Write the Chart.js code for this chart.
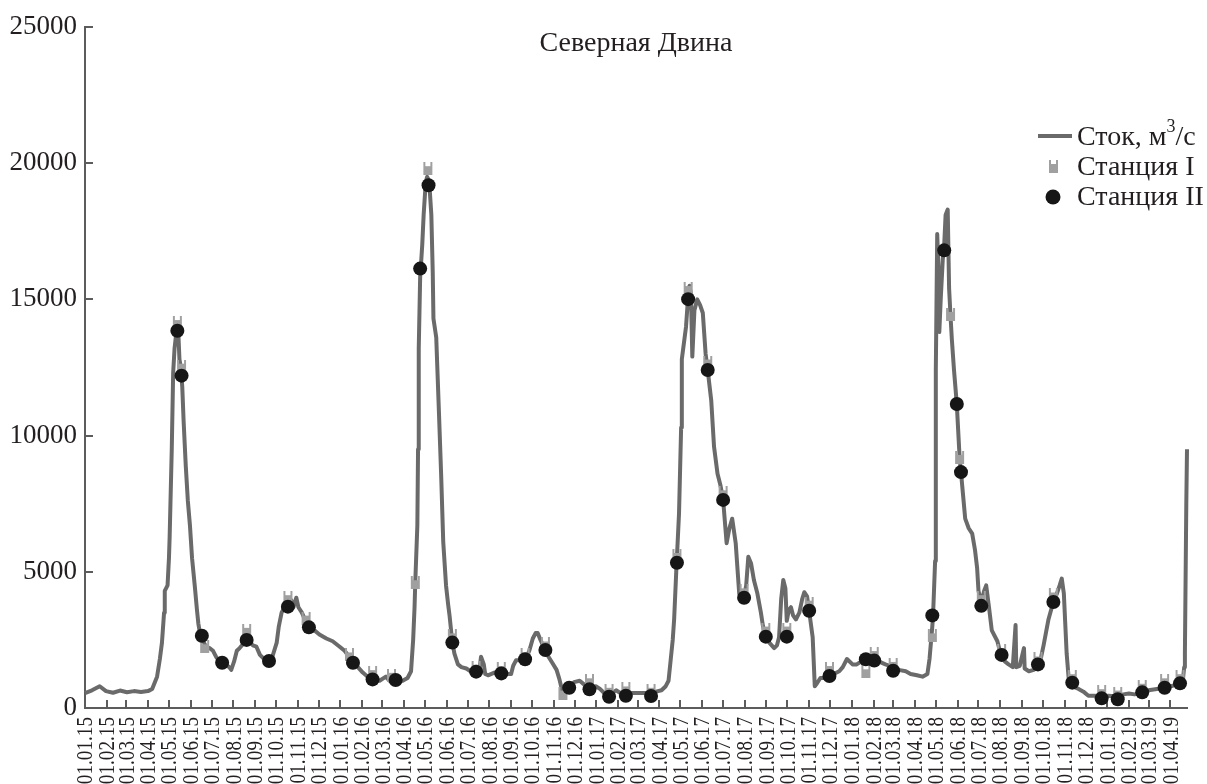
<!DOCTYPE html>
<html>
<head>
<meta charset="utf-8">
<script src="https://cdn.jsdelivr.net/npm/chart.js@4"></script>
<style>
  html, body { margin: 0; padding: 0; background: #fff; }
  #wrap { width: 1207px; height: 784px; }
</style>
</head>
<body>
<div id="wrap"><canvas id="chart" width="1207" height="784"></canvas></div>
<script>
// daily discharge, day number counted from 01.01.2015
const flowDay = [
  0, 10, 21, 30, 40, 50, 60, 70, 80, 90, 96, 103, 107, 110, 113, 114, 118, 120, 121, 124,
  126, 128, 131, 133, 135, 137, 139, 141, 144, 147, 150, 153, 157, 160, 162, 164, 168, 173, 178, 183,
  188, 196, 201, 206, 209, 213, 217, 221, 226, 231, 236, 240, 245, 250, 256, 263, 268, 274, 277, 281,
  285, 290, 295, 298, 302, 305, 310, 315, 321, 328, 335, 345, 354, 364, 371, 377, 383, 390, 397, 404,
  411, 421, 430, 435, 444, 454, 461, 466, 469, 471, 472, 475, 476, 477, 479, 482, 484, 487, 489, 491,
  493, 495, 497, 498, 502, 506, 509, 512, 516, 519, 521, 525, 528, 533, 538, 545, 551, 559, 564, 566,
  570, 572, 576, 585, 595, 602, 609, 612, 616, 622, 629, 635, 640, 644, 647, 651, 658, 662, 668, 674,
  678, 683, 687, 692, 699, 707, 714, 721, 730, 736, 742, 749, 759, 765, 773, 782, 792, 801, 809, 816,
  824, 830, 834, 837, 840, 842, 845, 849, 852, 853, 859, 862, 864, 866, 868, 871, 875, 879, 883, 887,
  890, 895, 899, 904, 908, 912, 917, 921, 925, 930, 935, 939, 942, 945, 948, 952, 956, 961, 966, 969,
  973, 978, 985, 989, 992, 995, 998, 1001, 1003, 1006, 1009, 1012, 1016, 1021, 1025, 1028, 1032, 1035, 1040, 1043,
  1046, 1051, 1058, 1064, 1070, 1078, 1083, 1089, 1097, 1103, 1109, 1116, 1122, 1128, 1135, 1144, 1155, 1163, 1173, 1180,
  1189, 1197, 1204, 1207, 1211, 1212, 1215, 1216, 1218, 1220, 1221, 1223, 1226, 1228, 1230, 1233, 1235, 1237, 1239, 1242,
  1246, 1250, 1252, 1255, 1258, 1263, 1268, 1272, 1275, 1277, 1281, 1285, 1288, 1292, 1296, 1304, 1310, 1315, 1320, 1326,
  1330, 1331, 1336, 1342, 1343, 1349, 1356, 1362, 1366, 1370, 1377, 1384, 1389, 1393, 1396, 1399, 1401, 1403, 1406, 1411,
  1420, 1427, 1434, 1443, 1453, 1463, 1476, 1484, 1492, 1500, 1511, 1520, 1532, 1543, 1552, 1559, 1565, 1569, 1571, 1572,
  1574, 1575
];
const flowValue = [
  550, 650, 800, 620, 560, 640, 580, 620, 590, 620, 700, 1150, 1800, 2400, 3500, 4300, 4500, 5500, 6300, 9500,
  12300, 13200, 13900, 14000, 12800, 12500, 11800, 10500, 8900, 7600, 6700, 5500, 4450, 3600, 3100, 2800, 2500, 2250, 2200, 2100,
  1850, 1650, 1600, 1500, 1400, 1700, 2100, 2200, 2350, 2500, 2400, 2300, 2250, 1950, 1800, 1750, 1900, 2400, 3000, 3500,
  3700, 3900, 3950, 3700, 4050, 3700, 3500, 3200, 2950, 2850, 2700, 2550, 2450, 2250, 2100, 1900, 1750, 1500, 1300, 1150,
  1050, 1000, 1150, 1000, 1000, 1000, 1100, 1350, 2500, 3700, 4600, 6700, 9500, 13200, 15800, 17000, 18100, 19300, 19500, 19400,
  18900, 18100, 16000, 14300, 13600, 10750, 8570, 6100, 4500, 3800, 3400, 2400, 2000, 1600, 1500, 1450, 1350, 1200, 1450, 1880,
  1600, 1250, 1200, 1300, 1200, 1250, 1250, 1550, 1750, 1750, 1750, 2100, 2550, 2750, 2750, 2500, 2100, 1900, 1650, 1400,
  1060, 520, 600, 700, 950, 1000, 850, 650, 800, 700, 550, 480, 650, 550, 500, 550, 550, 550, 500, 600,
  650, 800, 1000, 1750, 2500, 3250, 5000, 7150, 10300, 12800, 14000, 15100, 15500, 15200, 12900, 14600, 15000, 14800, 14500, 13000,
  12400, 11300, 9600, 8600, 8200, 7650, 6050, 6600, 6950, 6050, 4200, 4000, 4100, 4500, 5550, 5300, 4700, 4200, 3500, 3000,
  2600, 2400, 2200, 2300, 2600, 4000, 4700, 4400, 3200, 3600, 3700, 3400, 3250, 3500, 4000, 4250, 4100, 3550, 2600, 800,
  900, 1100, 1100, 1200, 1250, 1350, 1500, 1800, 1600, 1600, 1700, 1850, 1800, 1750, 1700, 1600, 1500, 1400, 1350, 1250,
  1200, 1150, 1250, 1800, 3000, 3350, 5400, 12400, 17400, 16000, 13800, 15000, 16500, 17000, 18100, 18300, 15400, 14400, 13500, 12400,
  11150, 9200, 8650, 7800, 6950, 6600, 6400, 5800, 5150, 4300, 3850, 4300, 4500, 3700, 2850, 2450, 1850, 1700, 1600, 1500,
  3050, 1500, 1550, 2200, 1450, 1350, 1400, 1500, 1800, 2300, 3250, 3900, 4200, 4500, 4750, 4200, 3100, 2000, 1050, 800,
  700, 600, 450, 450, 420, 450, 420, 500, 530, 500, 550, 650, 700, 750, 800, 850, 900, 1000, 1500, 2000,
  7500, 9500
];

// Станция I
const st1Day = [132, 138, 171, 231, 290, 316, 378, 411, 438, 472, 490, 525, 559, 595, 629, 658, 683, 721, 749, 773,
  809, 846, 862, 890, 912, 942, 973, 1003, 1035, 1064, 1116, 1128, 1155, 1211, 1237, 1250, 1281, 1310, 1362, 1384,
  1411, 1453, 1476, 1511, 1543, 1565];
const st1Value = [14150, 12550, 2250, 2850, 4050, 3300, 1950, 1300, 1200, 4600, 19800, 2650, 1500, 1450, 1950, 2350, 550, 1000, 650, 700,
  650, 5600, 15400, 12700, 7900, 4300, 2900, 2900, 3850, 1450, 1330, 2000, 1600, 2650, 14450, 9200, 4050, 2100, 1800, 4150,
  1150, 600, 550, 800, 1000, 1150];

// Станция II
const st2Day = [132, 138, 167, 196, 231, 263, 290, 320, 383, 411, 444, 479, 491, 525, 559, 595, 629, 658, 692, 721,
  749, 773, 809, 846, 862, 890, 912, 942, 973, 1003, 1035, 1064, 1116, 1128, 1155, 1211, 1228, 1246, 1252, 1281,
  1310, 1362, 1384, 1411, 1453, 1476, 1511, 1543, 1565];
const st2Value = [13850, 12200, 2650, 1660, 2500, 1725, 3720, 2960, 1660, 1050, 1030, 16130, 19190, 2400, 1335, 1270, 1790, 2130, 745, 685,
  415, 450, 440, 5330, 15010, 12410, 7640, 4050, 2620, 2620, 3570, 1175, 1790, 1740, 1370, 3400, 16800, 11160, 8660, 3750,
  1950, 1600, 3890, 930, 355, 320, 575, 745, 905];

const monthLabels = [
  '01.01.15', '01.02.15', '01.03.15', '01.04.15', '01.05.15', '01.06.15', '01.07.15', '01.08.15', '01.09.15', '01.10.15', '01.11.15', '01.12.15',
  '01.01.16', '01.02.16', '01.03.16', '01.04.16', '01.05.16', '01.06.16', '01.07.16', '01.08.16', '01.09.16', '01.10.16', '01.11.16', '01.12.16',
  '01.01.17', '01.02.17', '01.03.17', '01.04.17', '01.05.17', '01.06.17', '01.07.17', '01.08.17', '01.09.17', '01.10.17', '01.11.17', '01.12.17',
  '01.01.18', '01.02.18', '01.03.18', '01.04.18', '01.05.18', '01.06.18', '01.07.18', '01.08.18', '01.09.18', '01.10.18', '01.11.18', '01.12.18',
  '01.01.19', '01.02.19', '01.03.19', '01.04.19'
];
const yTicks = [0, 5000, 10000, 15000, 20000, 25000];

const FONT = '"Liberation Serif", "Times New Roman", serif';
const TEXT = '#231f20';
const AXIS = '#5c5c5c';
const LINE = '#6a6a6a';
const MARK1 = '#a0a0a0';
const MARK2 = '#161616';

const DAY0 = Date.UTC(2015, 0, 1);
function labelToDay(s) {
  const p = s.split('.').map(Number);
  return Math.round((Date.UTC(2000 + p[2], p[1] - 1, p[0]) - DAY0) / 86400000);
}
const monthDays = monthLabels.map(labelToDay);

function cupMarker() {
  const c = document.createElement('canvas');
  c.width = 11; c.height = 13;
  const g = c.getContext('2d');
  g.fillStyle = MARK1;
  g.fillRect(1, 4, 9, 9);
  g.fillRect(1, 0, 2, 4);
  g.fillRect(8, 0, 2, 4);
  return c;
}
const cup = cupMarker();

const pts = (xs, ys) => xs.map((d, i) => ({ x: d, y: ys[i] }));

const decor = {
  id: 'decor',
  beforeDatasetsDraw(chart) {
    const { ctx, chartArea: a, scales: { x, y } } = chart;
    ctx.save();
    ctx.strokeStyle = AXIS;
    ctx.lineWidth = 2;
    ctx.beginPath();
    x.ticks.forEach(t => {
      const px = Math.round(x.getPixelForValue(t.value));
      ctx.moveTo(px, a.bottom);
      ctx.lineTo(px, a.bottom - 8);
    });
    y.ticks.forEach(t => {
      const py = Math.round(y.getPixelForValue(t.value));
      ctx.moveTo(a.left, py);
      ctx.lineTo(a.left + 8, py);
    });
    ctx.stroke();
    ctx.restore();
  },
  afterDraw(chart) {
    const { ctx, chartArea: a, scales: { x } } = chart;
    ctx.save();
    ctx.fillStyle = TEXT;

    // month labels, rotated and slightly condensed like the original
    ctx.font = '24px ' + FONT;
    ctx.textAlign = 'right';
    ctx.textBaseline = 'middle';
    x.ticks.forEach((t, i) => {
      ctx.save();
      ctx.translate(x.getPixelForValue(t.value) + 1, a.bottom + 9);
      ctx.rotate(-Math.PI / 2);
      ctx.scale(0.8, 1);
      ctx.fillText(monthLabels[i], 0, 0);
      ctx.restore();
    });

    ctx.textAlign = 'center';
    ctx.font = '28px ' + FONT;
    ctx.fillText('Северная Двина', 636, 44);

    // legend
    ctx.textAlign = 'left';
    ctx.strokeStyle = LINE;
    ctx.lineWidth = 4;
    ctx.beginPath();
    ctx.moveTo(1038, 136);
    ctx.lineTo(1072, 136);
    ctx.stroke();
    let tx = 1077;
    ctx.fillText('Сток, м', tx, 138);
    tx += ctx.measureText('Сток, м').width;
    ctx.font = '18px ' + FONT;
    ctx.fillText('3', tx, 127);
    tx += ctx.measureText('3').width;
    ctx.font = '28px ' + FONT;
    ctx.fillText('/с', tx, 138);

    ctx.drawImage(cup, 1048, 160);
    ctx.fillText('Станция I', 1077, 168);

    ctx.fillStyle = MARK2;
    ctx.beginPath();
    ctx.arc(1053, 197, 7.5, 0, Math.PI * 2);
    ctx.fill();
    ctx.fillStyle = TEXT;
    ctx.fillText('Станция II', 1077, 198);
    ctx.restore();
  }
};

new Chart(document.getElementById('chart'), {
  type: 'line',
  data: {
    datasets: [
      {
        label: 'Станция II',
        data: pts(st2Day, st2Value),
        showLine: false,
        pointStyle: 'circle',
        pointRadius: 7,
        pointBackgroundColor: MARK2,
        pointBorderWidth: 0,
        order: 0,
        clip: 10
      },
      {
        label: 'Станция I',
        data: pts(st1Day, st1Value),
        showLine: false,
        pointStyle: cup,
        pointRadius: 6,
        order: 1,
        clip: 10
      },
      {
        label: 'Сток, м3/с',
        data: pts(flowDay, flowValue),
        borderColor: LINE,
        borderWidth: 4,
        borderJoinStyle: 'round',
        pointRadius: 0,
        tension: 0,
        order: 2,
        clip: 6
      }
    ]
  },
  options: {
    responsive: false,
    animation: false,
    events: [],
    layout: { padding: { top: 27, right: 20, left: 0, bottom: 0 } },
    plugins: { legend: { display: false }, tooltip: { enabled: false } },
    scales: {
      x: {
        type: 'linear',
        min: 0,
        max: 1575,
        grid: { display: false, drawTicks: false },
        border: { display: true, color: AXIS, width: 2 },
        afterBuildTicks: s => { s.ticks = monthDays.map(v => ({ value: v })); },
        afterFit: s => { s.height = 76; },
        ticks: { display: false, autoSkip: false }
      },
      y: {
        min: 0,
        max: 25000,
        grid: { display: false, drawTicks: false },
        border: { display: true, color: AXIS, width: 2 },
        afterBuildTicks: s => { s.ticks = yTicks.map(v => ({ value: v })); },
        afterFit: s => { s.width = 85; },
        ticks: {
          padding: 8,
          color: TEXT,
          font: { family: FONT, size: 27 },
          callback: v => String(v)
        }
      }
    }
  },
  plugins: [decor]
});
</script>
</body>
</html>
